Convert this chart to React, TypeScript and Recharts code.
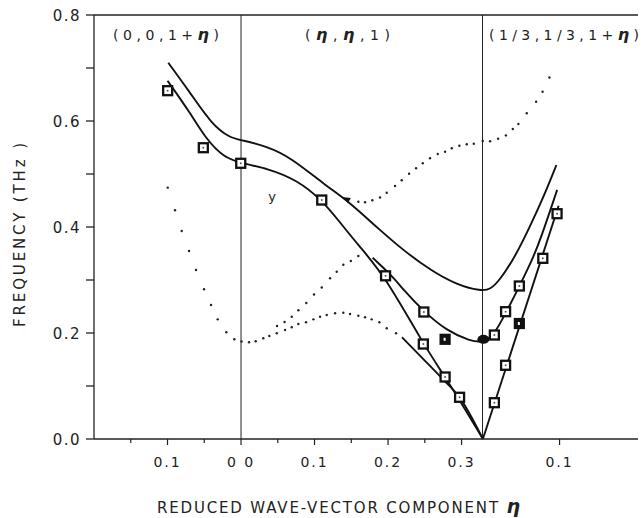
import React from 'react';
import { ComposedChart, Line, Scatter, XAxis, YAxis, ReferenceLine } from 'recharts';

// x runs along the reciprocal-space path:
// 0 .. 0.2   -> (0,0,1+η), η going 0.2 -> 0
// 0.2 .. ~0.53 -> (η,η,1), η going 0 -> 1/3
// ~0.53 ..   -> (1/3,1/3,1+η), η going 0 -> 0.2
const zoneEdges = [0.2, 0.5285];

const xTickPositions = [0.05, 0.1, 0.15, 0.2, 0.25, 0.3, 0.35, 0.4, 0.45, 0.5, 0.6333];
const xTickLabels = ['', '0.1', '', '0 0', '', '0.1', '', '0.2', '', '0.3', '0.1'];
const yTicks = [0, 0.1, 0.2, 0.3, 0.4, 0.5, 0.6, 0.7, 0.8];

// solid (calculated) branches, [x, frequency THz]
const upperOptic: [number, number][] = [
  [0.101, 0.71], [0.131, 0.653], [0.16, 0.594], [0.185, 0.568], [0.201, 0.564],
  [0.235, 0.552], [0.267, 0.532], [0.317, 0.476], [0.344, 0.451], [0.389, 0.394],
  [0.42, 0.357], [0.457, 0.319], [0.493, 0.291], [0.527, 0.279], [0.539, 0.282],
  [0.552, 0.3], [0.57, 0.338], [0.584, 0.375], [0.597, 0.413], [0.614, 0.465], [0.629, 0.517],
];
const lowerOptic: [number, number][] = [
  [0.1, 0.676], [0.131, 0.615], [0.153, 0.565], [0.176, 0.532], [0.201, 0.52],
  [0.235, 0.511], [0.276, 0.489], [0.31, 0.451], [0.335, 0.408], [0.36, 0.365],
  [0.396, 0.307], [0.448, 0.179], [0.478, 0.116], [0.504, 0.058], [0.529, 0.0],
];
const middleBranch: [number, number][] = [
  [0.379, 0.342], [0.407, 0.306], [0.421, 0.281], [0.449, 0.24], [0.48, 0.204],
  [0.512, 0.185], [0.528, 0.182], [0.543, 0.193], [0.561, 0.24], [0.579, 0.289],
  [0.596, 0.338], [0.607, 0.375], [0.63, 0.47],
];
const acousticLeft: [number, number][] = [
  [0.419, 0.192], [0.445, 0.155], [0.475, 0.112], [0.497, 0.079], [0.529, 0.0],
];
const acousticRight: [number, number][] = [
  [0.529, 0.0], [0.632, 0.44],
];

// dotted branches, one entry per plotted dot
const dotsLow: [number, number][] = [
  [0.1003, 0.4742], [0.1102, 0.4315], [0.1193, 0.3925], [0.1293, 0.3547], [0.1388, 0.3189],
  [0.1497, 0.2825], [0.1592, 0.2528], [0.1683, 0.2258], [0.18, 0.2013], [0.1909, 0.1881],
  [0.2007, 0.184], [0.2109, 0.1825], [0.22, 0.1843], [0.2303, 0.19], [0.2385, 0.1943],
  [0.2486, 0.1994], [0.2599, 0.2057], [0.269, 0.2108], [0.278, 0.217], [0.2884, 0.2202],
  [0.2984, 0.2258], [0.3075, 0.2308], [0.3166, 0.234], [0.3279, 0.2372], [0.3392, 0.2383],
  [0.3483, 0.2358], [0.3596, 0.2326], [0.3687, 0.2296], [0.3778, 0.2258], [0.3882, 0.2202],
  [0.3982, 0.2089], [0.4109, 0.1994],
];
const dotsMid: [number, number][] = [
  [0.249, 0.2132], [0.2592, 0.2208], [0.269, 0.2308], [0.278, 0.2428], [0.2888, 0.2566],
  [0.2993, 0.2726], [0.3098, 0.2858], [0.3211, 0.3032], [0.3302, 0.3157], [0.3392, 0.3287],
  [0.3494, 0.3358], [0.3596, 0.3453],
];
const dotsHigh: [number, number][] = [
  [0.3596, 0.4477], [0.3687, 0.4466], [0.3786, 0.4504], [0.3891, 0.4557], [0.3982, 0.4645],
  [0.4095, 0.4774], [0.4186, 0.4881], [0.4286, 0.5006], [0.4381, 0.5108], [0.4472, 0.5202],
  [0.4571, 0.5296], [0.4676, 0.5377], [0.4776, 0.5421], [0.4867, 0.5485], [0.497, 0.5534],
  [0.5071, 0.5562], [0.5166, 0.5572], [0.5288, 0.5623], [0.5388, 0.5619], [0.5497, 0.5666],
  [0.5603, 0.5728], [0.5697, 0.5849], [0.5773, 0.5943], [0.5887, 0.6145], [0.6014, 0.6364],
  [0.6102, 0.6553], [0.6195, 0.6821],
];

// measured frequencies
const openPoints: [number, number][] = [
  [0.1002, 0.6572], [0.1487, 0.5496], [0.1996, 0.5202], [0.3098, 0.4509], [0.3966, 0.3079],
  [0.4487, 0.2396], [0.448, 0.1792], [0.4776, 0.117], [0.4973, 0.0787], [0.5446, 0.1962],
  [0.5446, 0.0685], [0.5599, 0.2402], [0.5599, 0.1391], [0.5786, 0.2887], [0.6105, 0.3409],
  [0.6299, 0.4251],
];
const filledPoints: [number, number][] = [[0.4776, 0.1881], [0.5786, 0.2179]];
const blobPoints: [number, number][] = [[0.5297, 0.1881]];
const arrowPoints: [number, number][] = [[0.344, 0.451]];

const rows = (pts: [number, number][]) => pts.map(([s, f]) => ({ s, f }));

const INK = '#111';
const FONT = '"DejaVu Sans", sans-serif';

const OpenSquare = (p: any) => (
  <g>
    <rect x={p.cx - 4.5} y={p.cy - 4.5} width={9} height={9} fill="#fff" stroke={INK} strokeWidth={2.3} />
    <rect x={p.cx - 0.8} y={p.cy - 0.8} width={1.6} height={1.6} fill="#444" />
  </g>
);
const FilledSquare = (p: any) => (
  <g>
    <rect x={p.cx - 4.5} y={p.cy - 4.5} width={9} height={9} fill={INK} stroke={INK} strokeWidth={2.2} />
    <rect x={p.cx - 1.5} y={p.cy - 1.5} width={2} height={3} fill="#fff" />
  </g>
);
const Blob = (p: any) => <ellipse cx={p.cx} cy={p.cy} rx={6} ry={4.5} fill={INK} />;
const Dot = (p: any) => <circle cx={p.cx} cy={p.cy} r={1.2} fill="#222" />;
const Arrow = (p: any) => (
  <path d={`M${p.cx - 5},${p.cy - 3} L${p.cx + 4},${p.cy - 2} L${p.cx + 1},${p.cy + 3} Z`} fill={INK} />
);

const XTick = (props: any) => {
  const { x, y, payload } = props;
  const i = xTickPositions.findIndex((v) => Math.abs(v - payload.value) < 1e-6);
  const label = i >= 0 ? xTickLabels[i] : '';
  return (
    <g>
      <line x1={x} x2={x} y1={y} y2={y + (label ? 6 : 4)} stroke="#222" strokeWidth={1.2} />
      {label && (
        <text x={x} y={y + 28} textAnchor="middle" fontFamily={FONT} fontSize={14} letterSpacing={2} fill="#222">
          {label}
        </text>
      )}
    </g>
  );
};

const YTick = (props: any) => {
  const { x, y, payload } = props;
  const major = Math.round(payload.value * 10) % 2 === 0;
  if (!major) return <g />;
  return (
    <text x={x} y={y + 6} textAnchor="end" fontFamily={FONT} fontSize={15} letterSpacing={1.5} fill="#222">
      {payload.value.toFixed(1)}
    </text>
  );
};

const solid = (pts: [number, number][], key: string, curve: 'basis' | 'monotone' | 'linear') => (
  <Line
    key={key}
    data={rows(pts)}
    dataKey="f"
    type={curve}
    stroke={INK}
    strokeWidth={1.9}
    dot={false}
    activeDot={false}
    isAnimationActive={false}
  />
);

export default function App() {
  return (
    <div style={{ position: 'absolute', left: 0, top: 0, background: '#fff' }}>
      <ComposedChart width={642} height={518} margin={{ top: 15, right: 4, bottom: 0, left: 0 }}>
        <XAxis
          dataKey="s"
          type="number"
          domain={[0, 0.74]}
          ticks={xTickPositions}
          interval={0}
          allowDataOverflow
          height={79}
          tickSize={0}
          tickMargin={0}
          tick={<XTick />}
          stroke="#222"
          strokeWidth={1.3}
        />
        <YAxis
          dataKey="f"
          type="number"
          domain={[0, 0.8]}
          ticks={yTicks}
          interval={0}
          width={94}
          tickSize={8}
          tickMargin={5}
          tick={<YTick />}
          stroke="#222"
          strokeWidth={1.3}
        />
        <ReferenceLine y={0.8} stroke="#222" strokeWidth={1.3} />
        {zoneEdges.map((x) => (
          <ReferenceLine key={x} x={x} stroke="#222" strokeWidth={1} />
        ))}
        {solid(upperOptic, 'a', 'basis')}
        {solid(lowerOptic, 'b', 'basis')}
        {solid(middleBranch, 'c', 'basis')}
        {solid(acousticLeft, 'd', 'monotone')}
        {solid(acousticRight, 'e', 'linear')}
        <Scatter data={rows(dotsLow)} dataKey="f" shape={<Dot />} isAnimationActive={false} />
        <Scatter data={rows(dotsMid)} dataKey="f" shape={<Dot />} isAnimationActive={false} />
        <Scatter data={rows(dotsHigh)} dataKey="f" shape={<Dot />} isAnimationActive={false} />
        <Scatter data={rows(arrowPoints)} dataKey="f" shape={<Arrow />} isAnimationActive={false} />
        <Scatter data={rows(blobPoints)} dataKey="f" shape={<Blob />} isAnimationActive={false} />
        <Scatter data={rows(openPoints)} dataKey="f" shape={<OpenSquare />} isAnimationActive={false} />
        <Scatter data={rows(filledPoints)} dataKey="f" shape={<FilledSquare />} isAnimationActive={false} />

        <text x={113} y={40} fontFamily={FONT} fontSize={14} fill="#222" textLength={106} lengthAdjust="spacing">
          (0,0,1+<tspan fontWeight="bold" fontStyle="italic" fontSize={16}>η</tspan>)
        </text>
        <text x={305} y={40} fontFamily={FONT} fontSize={14} fill="#222" textLength={85} lengthAdjust="spacing">
          (<tspan fontWeight="bold" fontStyle="italic" fontSize={16}>η</tspan>,<tspan fontWeight="bold" fontStyle="italic" fontSize={16}>η</tspan>,1)
        </text>
        <text x={489} y={40} fontFamily={FONT} fontSize={14} fill="#222" textLength={150} lengthAdjust="spacing">
          (1/3,1/3,1+<tspan fontWeight="bold" fontStyle="italic" fontSize={16}>η</tspan>)
        </text>
        <text x={272} y={201} textAnchor="middle" fontFamily={FONT} fontSize={13} fill="#222">
          y
        </text>
        <text
          x={0}
          y={0}
          transform="translate(25,235) rotate(-90)"
          textAnchor="middle"
          fontFamily={FONT}
          fontSize={15}
          fill="#222"
          textLength={184}
          lengthAdjust="spacing"
        >
          FREQUENCY  (THz )
        </text>
        <text x={157} y={513} fontFamily={FONT} fontSize={15} fill="#222" textLength={363} lengthAdjust="spacing">
          REDUCED  WAVE-VECTOR  COMPONENT  <tspan fontWeight="bold" fontStyle="italic" fontSize={19}>η</tspan>
        </text>
      </ComposedChart>
    </div>
  );
}
